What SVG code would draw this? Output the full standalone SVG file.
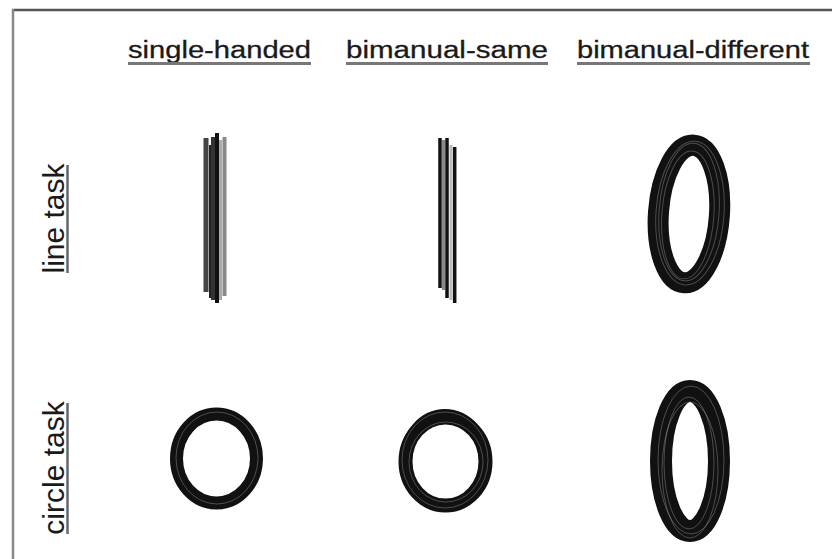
<svg xmlns="http://www.w3.org/2000/svg" width="832" height="559" viewBox="0 0 832 559">
<style>
.hdr{font-family:"Liberation Sans",Arial,sans-serif;font-size:23px;fill:#1a1a1a;stroke:#1a1a1a;stroke-width:0.3}
.side{font-family:"Liberation Sans",Arial,sans-serif;font-size:30px;fill:#1a1a1a}
.ul{stroke:#777;stroke-width:3}
.vul{stroke:#666;stroke-width:2.5}
.ring{fill:none;stroke:#111}
.gap{fill:none;stroke:#fff;stroke-opacity:0.25;stroke-width:1}
</style>
<rect x="0" y="0" width="832" height="559" fill="#fff"/>
<g id="frame">
<line x1="12" y1="10" x2="832" y2="10" stroke="#555" stroke-width="2.5"/>
<line x1="13" y1="9" x2="13" y2="559" stroke="#888" stroke-width="2.5"/>
</g>
<g id="headers">
<text class="hdr" x="128" y="58" textLength="183" lengthAdjust="spacingAndGlyphs">single-handed</text>
<line class="ul" x1="128" y1="63.5" x2="311" y2="63.5"/>
<text class="hdr" x="346" y="58" textLength="202" lengthAdjust="spacingAndGlyphs">bimanual-same</text>
<line class="ul" x1="346" y1="63.5" x2="548" y2="63.5"/>
<text class="hdr" x="577" y="58" textLength="232" lengthAdjust="spacingAndGlyphs">bimanual-different</text>
<line class="ul" x1="577" y1="63.5" x2="810" y2="63.5"/>
</g>
<g id="row-labels">
<text class="side" transform="translate(64,218.5) rotate(-90)" text-anchor="middle">line task</text>
<line class="vul" x1="67.5" y1="165" x2="67.5" y2="273"/>
<text class="side" transform="translate(64,468) rotate(-90)" text-anchor="middle">circle task</text>
<line class="vul" x1="67.5" y1="403" x2="67.5" y2="534"/>
</g>
<g id="line-single">
<line x1="206" y1="138" x2="206" y2="292" stroke="#444" stroke-width="5"/>
<line x1="210" y1="145" x2="210" y2="298" stroke="#222" stroke-width="2"/>
<line x1="213" y1="137" x2="213" y2="300" stroke="#333" stroke-width="4"/>
<line x1="217" y1="133" x2="217" y2="303" stroke="#111" stroke-width="4"/>
<line x1="220.5" y1="140" x2="220.5" y2="300" stroke="#aaa" stroke-width="3"/>
<line x1="224.5" y1="137" x2="224.5" y2="296" stroke="#888" stroke-width="4"/>
</g>
<g id="line-bimanual-same">
<line x1="440" y1="138" x2="440" y2="288" stroke="#111" stroke-width="3.5"/>
<line x1="443.5" y1="140" x2="443.5" y2="290" stroke="#888" stroke-width="3"/>
<line x1="447" y1="138" x2="447" y2="298" stroke="#111" stroke-width="3.5"/>
<line x1="451" y1="145" x2="451" y2="300" stroke="#bbb" stroke-width="3"/>
<line x1="454.7" y1="147" x2="454.7" y2="303" stroke="#111" stroke-width="3.5"/>
</g>
<g id="line-bimanual-different" transform="rotate(4 689 213)">
<ellipse class="ring" cx="689" cy="214" rx="30.5" ry="69" stroke-width="21"/>
<ellipse class="gap" cx="690" cy="213" rx="34" ry="72"/>
<ellipse class="gap" cx="688" cy="215" rx="26" ry="64"/>
<ellipse class="gap" cx="689" cy="212" rx="30" ry="69"/>
</g>
<g id="circle-single">
<ellipse class="ring" cx="216.5" cy="458.5" rx="40" ry="44.5" stroke-width="13"/>
<ellipse class="gap" cx="217" cy="458" rx="41" ry="46"/>
</g>
<g id="circle-bimanual-same">
<ellipse class="ring" cx="445.5" cy="461.5" rx="40" ry="44" stroke-width="14"/>
<ellipse class="ring" cx="445" cy="460" rx="41" ry="47" stroke-width="8"/>
<ellipse class="gap" cx="446" cy="462" rx="37" ry="40"/>
<ellipse class="gap" cx="445" cy="460" rx="43" ry="48"/>
</g>
<g id="circle-bimanual-different">
<ellipse class="ring" cx="690" cy="461" rx="29" ry="70" stroke-width="22"/>
<ellipse class="gap" cx="691" cy="460" rx="33" ry="74"/>
<ellipse class="gap" cx="689" cy="463" rx="25" ry="66"/>
<ellipse class="gap" cx="690" cy="470" rx="28" ry="68"/>
</g>
<g id="connectors"/>
</svg>
